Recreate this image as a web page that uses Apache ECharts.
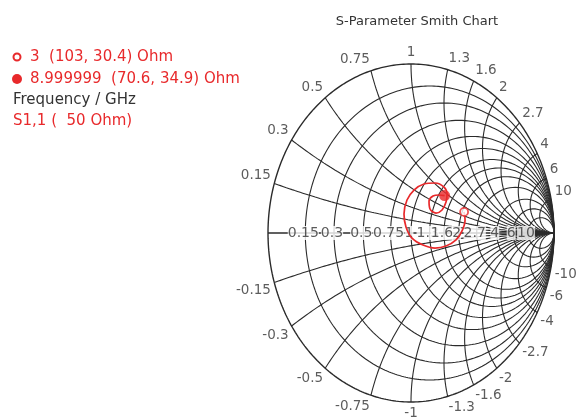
<!DOCTYPE html>
<html><head><meta charset="utf-8">
<script src="https://cdn.jsdelivr.net/npm/echarts@6/dist/echarts.min.js"></script>
<style>html,body{margin:0;padding:0;background:#fff}#c{width:582px;height:420px}</style>
</head><body><div id="c"></div>
<script>
// ---- data ----
const rVals = [0, 0.15, 0.3, 0.5, 0.75, 1, 1.3, 1.6, 2, 2.7, 4, 6, 10];
const rLabels = ['0.15', '0.3', '0.5', '0.75', '1', '1.3', '1.6', '2', '2.7', '4', '6', '10'];
const xVals = [0.15, 0.3, 0.5, 0.75, 1, 1.3, 1.6, 2, 2.7, 4, 6, 10];
const xLabels = ['0.15', '0.3', '0.5', '0.75', '1', '1.3', '1.6', '2', '2.7', '4', '6', '10'];
// S11 trace (reflection coefficient, real / imaginary)
const s11Re = [0.371, 0.378, 0.357, 0.315, 0.245, 0.168, 0.084, 0.007, -0.035, -0.049, -0.028, 0.021, 0.091, 0.168, 0.231, 0.252, 0.245, 0.217, 0.175, 0.133, 0.126, 0.154, 0.196, 0.235];
const s11Im = [0.125, 0.077, 0.012, -0.041, -0.077, -0.089, -0.071, -0.030, 0.036, 0.112, 0.195, 0.254, 0.290, 0.296, 0.272, 0.231, 0.183, 0.136, 0.118, 0.142, 0.189, 0.219, 0.225, 0.221];
const markerFreq = ['3', '8.999999'];
const markerR = [103, 70.6];
const markerX = [30.4, 34.9];
const z0 = 50;

// ---- layout ----
const CX = 411, CY = 233, RX = 143, RY = 169;
const RED = '#e8292b';
const GRID = '#2b2b2b';
const FONT = 'DejaVu Sans';

function gamma(r, x) {
  const d = (r + 1) * (r + 1) + x * x;
  return [(r * r + x * x - 1) / d, 2 * x / d];
}

const series = [];
// constant resistance circles
rVals.forEach(r => {
  const pts = [];
  for (let i = 0; i <= 360; i++) {
    const t = i * Math.PI / 180;
    pts.push([r / (r + 1) + Math.cos(t) / (r + 1), Math.sin(t) / (r + 1)]);
  }
  series.push({type: 'line', data: pts, showSymbol: false, silent: true, z: 1, clip: false,
    lineStyle: {color: GRID, width: r === 0 ? 1.4 : 1.1}});
});
// constant reactance arcs
xVals.forEach(xv => {
  [xv, -xv].forEach(x => {
    const pts = [];
    for (let i = 0; i < 400; i++) {
      const u = i / 400 * Math.PI / 2;
      pts.push(gamma(Math.tan(u), x));
    }
    pts.push([1, 0]);
    series.push({type: 'line', data: pts, showSymbol: false, silent: true, z: 1, clip: false,
      lineStyle: {color: GRID, width: 1.1}});
  });
});
// real axis
series.push({type: 'line', data: [gamma(0, 0), [1, 0]], showSymbol: false, silent: true, z: 1, clip: false,
  lineStyle: {color: GRID, width: 1.4}});

// reactance labels around the rim
const rimData = [];
xVals.forEach((xv, i) => {
  [1, -1].forEach(sg => {
    const g = gamma(0, sg * xv);
    const c = g[0], s = g[1];
    rimData.push({
      value: [g[0] * 1.025, g[1] * 1.025],
      name: (sg < 0 ? '-' : '') + xLabels[i],
      label: {
        align: c > 0.25 ? 'left' : (c < -0.25 ? 'right' : 'center'),
        verticalAlign: s > 0.15 ? 'bottom' : (s < -0.15 ? 'top' : 'middle')
      }
    });
  });
});
series.push({type: 'scatter', data: rimData, symbolSize: 0, silent: true, z: 3, clip: false,
  label: {show: true, position: [0, 0], formatter: p => p.name, color: '#333',
    fontFamily: FONT, fontSize: 13.5}});

// resistance labels on real axis
const axData = rVals.slice(1).map((r, i) => ({value: [(r - 1) / (r + 1), 0], name: rLabels[i]}));
series.push({type: 'scatter', data: axData, symbolSize: 0, silent: true, z: 3, clip: false,
  label: {show: true, position: [0, 0], align: 'center', verticalAlign: 'middle', offset: [-2, 0],
    formatter: p => p.name, color: '#333', backgroundColor: '#fff',
    fontFamily: FONT, fontSize: 14, padding: [0, 0]}});

// S11 trace
series.push({type: 'line', data: s11Re.map((v, i) => [v, s11Im[i]]), showSymbol: false, smooth: 0.35,
  z: 5, clip: false, lineStyle: {color: RED, width: 1.7}});

// markers
const mk = markerR.map((r, i) => gamma(r / z0, markerX[i] / z0));
series.push({type: 'scatter', data: [mk[0]], symbol: 'circle', symbolSize: 8, z: 6, clip: false,
  itemStyle: {color: '#fff', borderColor: RED, borderWidth: 1.8}});
series.push({type: 'scatter', data: [mk[1]], symbol: 'circle', symbolSize: 11, z: 6, clip: false,
  itemStyle: {color: RED}});

const legendLines = [
  markerFreq[0] + '  (' + markerR[0] + ', ' + markerX[0] + ') Ohm',
  markerFreq[1] + '  (' + markerR[1] + ', ' + markerX[1] + ') Ohm',
  'Frequency / GHz',
  'S1,1 (  ' + z0 + ' Ohm)'
];
const LF = '15px "' + FONT + '"';

const chart = echarts.init(document.getElementById('c'), null, {renderer: 'canvas'});
chart.setOption({
  animation: false,
  backgroundColor: '#fff',
  title: {text: 'S-Parameter Smith Chart', left: CX + 1, top: 10, textAlign: 'center',
    textStyle: {fontFamily: FONT, fontSize: 13, fontWeight: 'normal', color: '#333'}},
  grid: {left: CX - RX, top: CY - RY, width: 2 * RX, height: 2 * RY},
  xAxis: {type: 'value', min: -1, max: 1, show: false},
  yAxis: {type: 'value', min: -1, max: 1, show: false},
  graphic: [
    {type: 'circle', shape: {cx: 17, cy: 57, r: 3.5}, style: {fill: '#fff', stroke: RED, lineWidth: 2}},
    {type: 'circle', shape: {cx: 17, cy: 79, r: 5}, style: {fill: RED}},
    {type: 'text', x: 30, y: 57, style: {text: legendLines[0], fill: RED, font: LF, verticalAlign: 'middle'}},
    {type: 'text', x: 30, y: 79, style: {text: legendLines[1], fill: RED, font: LF, verticalAlign: 'middle'}},
    {type: 'text', x: 13, y: 100, style: {text: legendLines[2], fill: '#333', font: LF, verticalAlign: 'middle'}},
    {type: 'text', x: 13, y: 121, style: {text: legendLines[3], fill: RED, font: LF, verticalAlign: 'middle'}}
  ],
  series: series
});
</script>
</body></html>
